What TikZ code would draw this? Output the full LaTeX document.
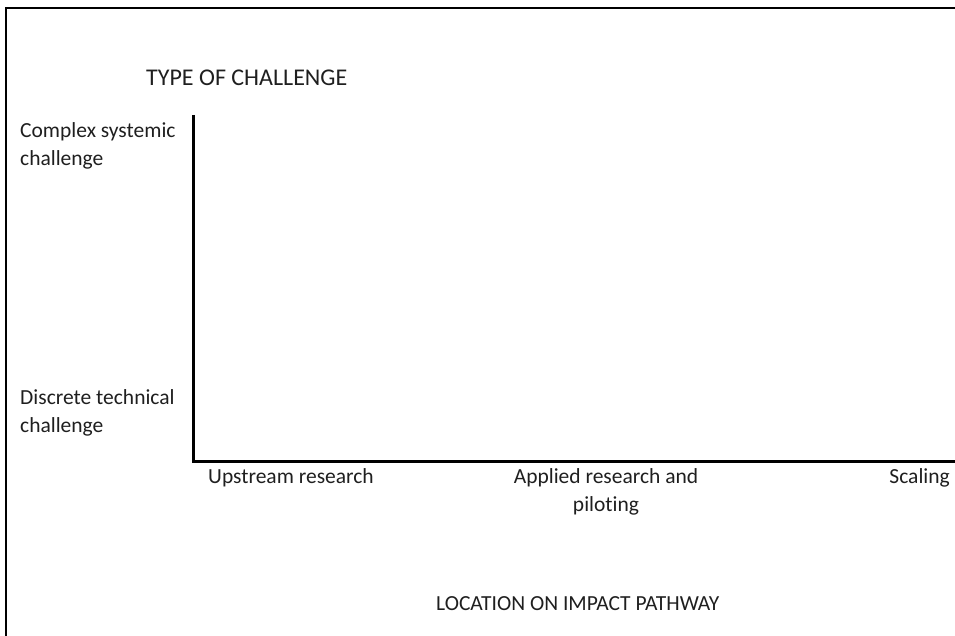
\documentclass[tikz,border=0pt]{standalone}
\usepackage{fontspec}
\setmainfont[Ligatures=NoCommon]{Carlito}
\begin{document}
\begin{tikzpicture}[x=1pt,y=-1pt,
  lbl/.style={inner sep=0pt,font=\fontsize{21.5}{28}\selectfont,text=black!88},
  ttl/.style={inner sep=0pt,font=\fontsize{24}{29}\selectfont,text=black!88},
  frame/.style={line width=2pt,black},
  axisline/.style={line width=3pt,black}]
\useasboundingbox (0,0) rectangle (955,636);
% frame (left and top)
\coordinate (fb) at (6,637);
\coordinate (ft) at (6,8);
\coordinate (fr) at (956,8);
\draw[frame] (fb) -- (ft) -- (fr);
% axes
\coordinate (ytop) at (193,115);
\coordinate (origin) at (193,461);
\coordinate (xend) at (956,461);
\draw[axisline] (ytop) -- (origin) -- (xend);
% labels
\node[ttl,anchor=west] (title) at (146,78) {TYPE OF CHALLENGE};
\node[lbl,anchor=west,align=left] (complex) at (20,146) {Complex systemic\\challenge};
\node[lbl,anchor=west,align=left] (discrete) at (20,413) {Discrete technical\\challenge};
\node[lbl,anchor=west] (up) at (208,478) {Upstream research};
\node[lbl,anchor=center,align=center] (applied) at (606,492) {Applied research and\\piloting};
\node[lbl,anchor=east] (scal) at (950,478) {Scaling};
\node[lbl,anchor=west] (loc) at (436,604) {LOCATION ON IMPACT PATHWAY};
\end{tikzpicture}
\end{document}
